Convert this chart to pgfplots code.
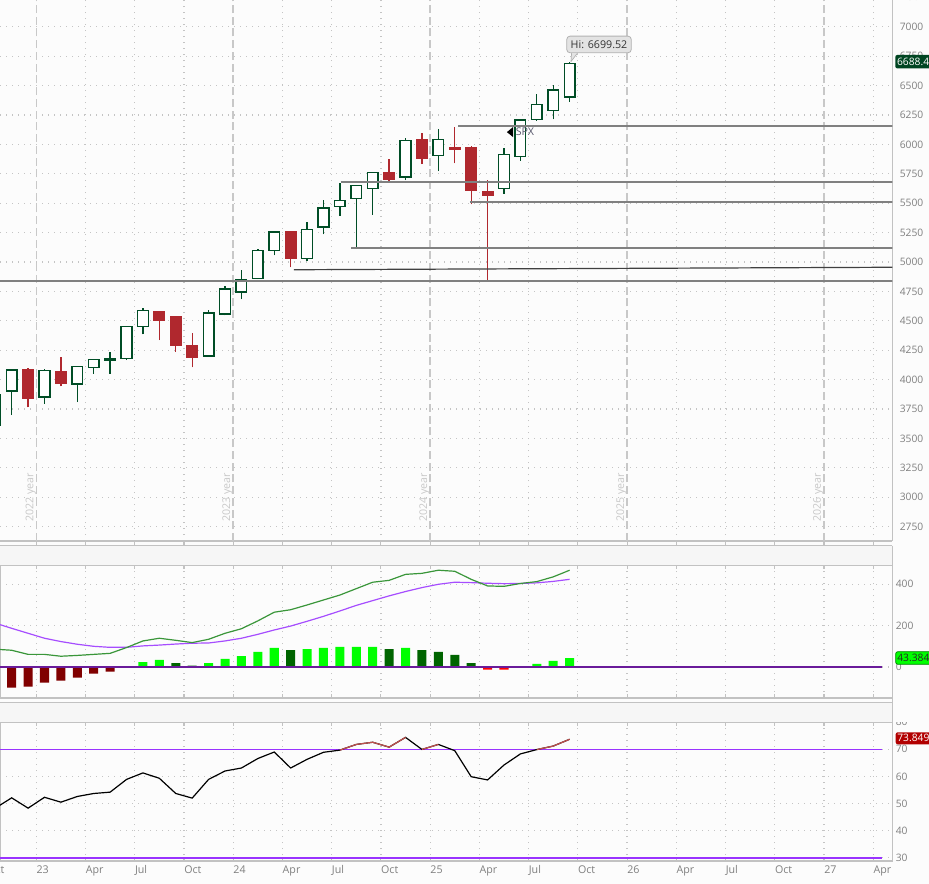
\documentclass[border=0pt]{standalone}
\usepackage{pgfplots}
\pgfplotsset{compat=1.18}
\usepackage{fontspec}
\setmainfont{Open Sans}

\definecolor{bg}{HTML}{FCFCFC}
\definecolor{stripc}{HTML}{F6F6F6}
\definecolor{upc}{HTML}{004D26}
\definecolor{dnc}{HTML}{B0282E}
\definecolor{gridc}{HTML}{C4C4C4}
\definecolor{yearc}{HTML}{C8C8C8}
\definecolor{lvl}{HTML}{808080}
\definecolor{tickc}{HTML}{7F7F7F}
\definecolor{framec}{HTML}{C2C2C2}
\definecolor{macdc}{HTML}{3A963A}
\definecolor{sigc}{HTML}{A64DFF}
\definecolor{zeroc}{HTML}{6A1B9A}
\definecolor{rsibandc}{HTML}{9933FF}
\definecolor{rsired}{HTML}{C0504D}
\definecolor{spxc}{HTML}{5A5A6E}
\definecolor{hdark}{HTML}{006400}
\definecolor{hlime}{HTML}{00FF00}
\definecolor{hdred}{HTML}{800000}
\definecolor{hred}{HTML}{FF0000}

\newcommand\ylab{\fontsize{7.7}{9}\selectfont}
\newcommand\xlab{\fontsize{8}{9}\selectfont}

% one monthly candle: month (0 = Jan 2023), open, high, low, close
\newcommand\candle[5]{%
  \pgfmathsetmacro\cxl{#1+0.175}%
  \pgfmathsetmacro\cxm{#1+0.5}%
  \pgfmathsetmacro\cxr{#1+0.825}%
  \ifdim #5pt<#2pt \def\cst{candledn}\def\cstb{candlednbox}\else\def\cst{candleup}\def\cstb{candleupbox}\fi
  \edef\cdo{%
    \noexpand\addplot[\cst] coordinates {(\cxm,#4) (\cxm,#3)};
    \noexpand\addplot[\cstb] coordinates {(\cxl,#2) (\cxr,#2) (\cxr,#5) (\cxl,#5)} -- cycle;}%
  \cdo}

\tikzset{yearlab/.style={rotate=90, anchor=base west, inner sep=0pt, text=yearc, font=\xlab}}
\pgfplotsset{
  candleup/.style={draw=upc, line width=1pt},
  candledn/.style={draw=dnc, line width=1pt},
  candleupbox/.style={draw=upc, fill=white, line width=1.1pt},
  candlednbox/.style={draw=dnc, fill=dnc, line width=1.1pt},
  panel/.style={scale only axis, anchor=north west, width=669.2pt,
    xmin=-2.212, xmax=52.16, clip mode=individual,
    /pgf/number format/1000 sep={},
    /pgf/number format/assume math mode=true,
    yticklabel pos=right,
    yticklabel style={font=\ylab, text=tickc, anchor=west, inner sep=0pt, xshift=2.5pt},
    ytick style={draw=none},
    grid=major,
    major grid style={gridc, line width=0.9pt, dash pattern=on 0.9pt off 3.6pt},
    axis line style={draw=framec, line width=0.8pt}},
  lvlline/.style={draw=lvl, line width=1.25pt},
}

\begin{document}
\begin{tikzpicture}
\fill[bg] (0pt,0pt) rectangle (696.75pt,-663pt);

% ---------------- price panel
\begin{axis}[panel, at={(0pt,0pt)}, height=405.75pt,
  axis x line*=bottom, axis y line*=right,
  ymin=2628, ymax=7227,
  ytick={2750,3000,...,7000},
  xtick={3,6,9,15,18,21,27,30,33,39,42,45,51}, xticklabels={},
  extra x ticks={0,12,24,36,48}, extra x tick labels={},
  extra x tick style={grid=major, major grid style={yearc, line width=1.1pt, dash pattern=on 6pt off 2.8pt}},
  tick align=outside, major tick length=3pt,
  xtick style={draw=framec, line width=0.8pt, solid},
]
\candle{-3}{3609.78}{3905.42}{3491.58}{3871.98}
\candle{-2}{3901.79}{4080.11}{3698.15}{4080.11}
\candle{-1}{4087.14}{4100.96}{3764.49}{3839.50}
\candle{0}{3853.29}{4094.21}{3794.33}{4076.60}
\candle{1}{4070.07}{4195.44}{3943.08}{3970.15}
\candle{2}{3963.34}{4110.75}{3808.86}{4109.31}
\candle{3}{4102.20}{4170.06}{4048.28}{4169.48}
\candle{4}{4166.79}{4231.10}{4048.28}{4179.83}
\candle{5}{4180.74}{4458.48}{4166.15}{4450.38}
\candle{6}{4450.48}{4607.07}{4385.05}{4588.96}
\candle{7}{4578.83}{4584.62}{4335.31}{4507.66}
\candle{8}{4530.60}{4541.25}{4238.63}{4288.05}
\candle{9}{4284.52}{4393.57}{4103.78}{4193.80}
\candle{10}{4201.27}{4587.64}{4197.74}{4567.80}
\candle{11}{4559.43}{4793.30}{4546.50}{4769.83}
\candle{12}{4745.20}{4931.09}{4682.11}{4845.65}
\candle{13}{4861.11}{5111.06}{4853.52}{5096.27}
\candle{14}{5098.51}{5264.85}{5056.82}{5254.35}
\candle{15}{5257.97}{5263.95}{4953.56}{5035.69}
\candle{16}{5029.03}{5341.88}{5011.05}{5277.51}
\candle{17}{5297.15}{5523.64}{5234.32}{5460.48}
\candle{18}{5471.08}{5669.67}{5390.95}{5522.30}
\candle{19}{5537.84}{5651.62}{5119.26}{5648.40}
\candle{20}{5623.89}{5767.37}{5402.62}{5762.48}
\candle{21}{5757.73}{5878.46}{5674.00}{5705.45}
\candle{22}{5723.22}{6053.58}{5696.51}{6032.38}
\candle{23}{6040.11}{6099.97}{5832.30}{5881.63}
\candle{24}{5903.26}{6128.18}{5773.31}{6040.53}
\candle{25}{5969.65}{6147.43}{5837.66}{5954.50}
\candle{26}{5968.33}{5986.09}{5488.73}{5611.85}
\candle{27}{5597.53}{5695.31}{4835.04}{5569.06}
\candle{28}{5625.14}{5968.61}{5578.64}{5911.69}
\candle{29}{5896.68}{6215.08}{5861.43}{6204.95}
\candle{30}{6212.69}{6427.02}{6201.98}{6339.39}
\candle{31}{6287.28}{6508.23}{6212.69}{6460.26}
\candle{32}{6401.51}{6699.52}{6360.58}{6688.46}

% support / resistance lines
\addplot[lvlline] coordinates {(-3,4838) (53,4838)};
\addplot[lvlline] coordinates {(25.7,6155) (53,6155)};
\addplot[lvlline] coordinates {(18.55,5680) (53,5680)};
\addplot[lvlline] coordinates {(26.42,5510) (53,5510)};
\addplot[lvlline] coordinates {(19.18,5121) (53,5121)};
\addplot[draw=black!75, line width=0.9pt] coordinates {(15.7,4934) (52.16,4955)};

% year labels
\node[yearlab] at (axis cs:-0.183,2790) {2022 year};
\node[yearlab] at (axis cs:11.817,2790) {2023 year};
\node[yearlab] at (axis cs:23.817,2790) {2024 year};
\node[yearlab] at (axis cs:35.817,2790) {2025 year};
\node[yearlab] at (axis cs:47.817,2790) {2026 year};

% partly hidden top tick label
\node[anchor=west, inner sep=0pt, xshift=2.5pt, font=\ylab, text=tickc]
  at (axis cs:52.16,7250) {7250};

% last-high callout
\node[fill=gray!22, draw=gray!60, line width=0.6pt, rounded corners=2.5pt,
  font=\xlab, text=black!80, inner xsep=3pt, inner ysep=2pt, minimum height=12.5pt]
  at (axis cs:34.29,6849) {Hi: 6699.52};
\fill[gray!22] (axis cs:32.62,6776) -- (axis cs:32.58,6703) -- (axis cs:32.98,6776) -- cycle;
\draw[gray!60, line width=0.5pt] (axis cs:32.62,6776) -- (axis cs:32.58,6703) -- (axis cs:32.98,6776);

% symbol marker
\fill[black] (axis cs:28.68,6104) -- (axis cs:29.05,6147) -- (axis cs:29.05,6062) -- cycle;
\node[anchor=west, inner sep=0pt, font=\xlab, text=spxc]
  at (axis cs:29.2,6104) {SPX};
\end{axis}

% ---------------- MACD panel
\begin{axis}[panel, at={(0pt,-423.75pt)}, height=99.75pt,
  ymin=-150, ymax=493.3,
  ytick={0,200,400},
  xtick={0,3,...,51}, xticklabels={},
  tick align=inside, major tick length=3pt,
  xtick style={draw=framec, line width=0.8pt, solid},
]
\addplot[ybar, bar width=0.55, bar shift=0pt, fill=hdred, draw=none] coordinates {
  (-1.5,-100) (-0.5,-95) (0.5,-76) (1.5,-66) (2.5,-52) (3.5,-32) (4.5,-23)};
\addplot[ybar, bar width=0.55, bar shift=0pt, fill=hlime, draw=none] coordinates {
  (6.5,24) (7.5,35) (10.5,19) (11.5,39) (12.5,53) (13.5,73) (14.5,92)
  (16.5,87) (17.5,92) (18.5,97) (19.5,97) (20.5,97) (22.5,92)
  (30.5,15) (31.5,29) (32.5,43.384)};
\addplot[ybar, bar width=0.55, bar shift=0pt, fill=hdark, draw=none] coordinates {
  (8.5,19) (9.5,6) (15.5,82) (21.5,87) (23.5,82) (24.5,73) (25.5,58) (26.5,19)};
\addplot[ybar, bar width=0.55, bar shift=0pt, fill=hred, draw=none] coordinates {
  (27.5,-13) (28.5,-13)};
\addplot[draw=zeroc, line width=1pt] coordinates {(-3,0) (51.54,0)};
% signal
\addplot[draw=sigc, line width=0.9pt] coordinates {
  (-2.5,212) (-1.5,187) (-0.5,163) (0.5,139) (1.5,123) (2.5,110) (3.5,100)
  (4.5,95) (5.5,95) (6.5,102) (7.5,106) (8.5,111) (9.5,115) (10.5,116)
  (11.5,126) (12.5,139) (13.5,158) (14.5,179) (15.5,198) (16.5,221)
  (17.5,245) (18.5,271) (19.5,298) (20.5,321) (21.5,344) (22.5,365)
  (23.5,384) (24.5,400) (25.5,410) (26.5,408) (27.5,405) (28.5,403)
  (29.5,404) (30.5,407) (31.5,414) (32.5,424)};
% MACD
\addplot[draw=macdc, line width=0.9pt] coordinates {
  (-2.5,86) (-1.5,81) (-0.5,61) (0.5,61) (1.5,52) (2.5,56) (3.5,61)
  (4.5,66) (5.5,94) (6.5,126) (7.5,139) (8.5,129) (9.5,118) (10.5,134)
  (11.5,163) (12.5,185) (13.5,223) (14.5,265) (15.5,277) (16.5,300)
  (17.5,324) (18.5,348) (19.5,379) (20.5,410) (21.5,419) (22.5,448)
  (23.5,453) (24.5,468) (25.5,463) (26.5,424) (27.5,392) (28.5,390)
  (29.5,404) (30.5,413) (31.5,436) (32.5,468)};
\end{axis}

% ---------------- RSI panel
\begin{axis}[panel, at={(0pt,-541.5pt)}, height=104.25pt,
  ymin=28.8, ymax=80.07,
  ytick={30,40,...,80},
  xtick={0,3,...,51},
  xticklabels={23,Apr,Jul,Oct,24,Apr,Jul,Oct,25,Apr,Jul,Oct,26,Apr,Jul,Oct,27,Apr},
  xticklabel style={font=\xlab, text=tickc, anchor=base west, inner sep=0pt, yshift=-9.7pt},
  tick align=inside, major tick length=3pt,
  xtick style={draw=framec, line width=0.8pt, solid},
]
\addplot[draw=rsibandc, line width=1.2pt] coordinates {(-3,70) (51.54,70)};
\addplot[draw=rsibandc, line width=1.2pt] coordinates {(-3,30) (51.54,30)};
\addplot[draw=black, line width=0.9pt] coordinates {
  (-2.5,48.3) (-1.5,52.1) (-0.5,48.3) (0.5,52.3) (1.5,50.5) (2.5,52.6)
  (3.5,53.7) (4.5,54.2) (5.5,58.9) (6.5,61.3) (7.5,59.3) (8.5,53.7)
  (9.5,52.0) (10.5,58.9) (11.5,62.0) (12.5,63.1) (13.5,66.6) (14.5,69.0)
  (15.5,63.1) (16.5,66.3) (17.5,68.9) (18.5,69.7) (19.5,71.8) (20.5,72.6)
  (21.5,70.8) (22.5,74.4) (23.5,69.95) (24.5,71.8) (25.5,69.5) (26.5,59.9)
  (27.5,58.7) (28.5,64.2) (29.5,68.3) (30.5,69.9) (31.5,71.2) (32.5,73.7)};
\addplot[draw=rsired, line width=0.9pt] coordinates {
  (18.5,69.7) (19.5,71.8) (20.5,72.6) (21.5,70.8) (22.5,74.4)};
\addplot[draw=rsired, line width=0.9pt] coordinates {(23.5,69.95) (24.5,71.8)};
\addplot[draw=rsired, line width=0.9pt] coordinates {(30.5,69.9) (31.5,71.2) (32.5,73.7)};
\node[font=\xlab, text=tickc, anchor=base west, inner sep=0pt, yshift=-9.7pt]
  at (axis cs:-3,28.8) {Oct};
\end{axis}

% ---------------- panel header strips
\fill[stripc] (0pt,-409.3pt) rectangle (669.2pt,-423.75pt);
\draw[framec, line width=0.8pt] (0pt,-409.3pt) -- (669.2pt,-409.3pt);
\fill[stripc] (0pt,-526.7pt) rectangle (669.2pt,-541.5pt);
\draw[framec, line width=0.8pt] (0pt,-526.7pt) -- (669.2pt,-526.7pt);
\draw[framec, line width=0.8pt] (669.2pt,-409.3pt) -- (669.2pt,-541.5pt);
% the RSI scale is cut at the top of its panel
\fill[bg] (669.7pt,-524pt) rectangle (696.75pt,-541.2pt);

% ---------------- last-value labels
\fill[upc!90!black, rounded corners=1.5pt] (671.5pt,-41.2pt) rectangle (710pt,-51.3pt);
\node[anchor=west, inner sep=0pt, font=\ylab, text=white] at (672.6pt,-46.3pt) {6688.46};
\fill[hlime, draw=green!50!black, line width=0.5pt, rounded corners=1.5pt] (671.8pt,-488.8pt) rectangle (710pt,-498.2pt);
\node[anchor=west, inner sep=0pt, font=\ylab, text=black!85] at (672.8pt,-493.5pt) {43.3844};
\fill[red!70!black, rounded corners=1.5pt] (671.8pt,-549.2pt) rectangle (710pt,-558.2pt);
\node[anchor=west, inner sep=0pt, font=\ylab, text=white] at (672.8pt,-553.7pt) {73.8494};

\pgfresetboundingbox
\useasboundingbox (0pt,0pt) rectangle (696.75pt,-663pt);
\end{tikzpicture}
\end{document}
